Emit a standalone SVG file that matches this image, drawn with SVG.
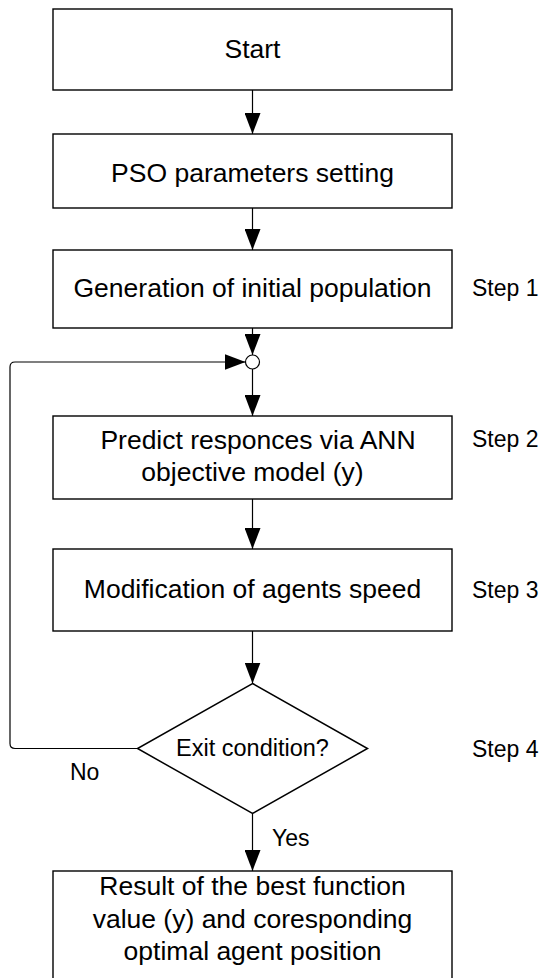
<svg xmlns="http://www.w3.org/2000/svg" width="542" height="978" viewBox="0 0 542 978">
  <style>
    .box { fill: #ffffff; stroke: #000000; stroke-width: 1.4; }
    .dia { fill: #ffffff; stroke: #000000; stroke-width: 1.5; }
    .junction { fill: #ffffff; stroke: #000000; stroke-width: 1.2; }
    .edge { fill: none; stroke: #000000; stroke-width: 1.2; }
    .main { font-family: "Liberation Sans", Arial, sans-serif; font-size: 26.5px; fill: #000000; text-anchor: middle; }
    .small { font-family: "Liberation Sans", Arial, sans-serif; font-size: 23px; fill: #000000; }
  </style>
  <defs>
    <marker id="arrow" markerUnits="userSpaceOnUse" markerWidth="21" markerHeight="16" refX="21" refY="8" orient="auto">
      <path d="M0,0 L21,8 L0,16 z" fill="#000000"/>
    </marker>
  </defs>
  <rect width="542" height="978" fill="#ffffff"/>

  <!-- connectors -->
  <g id="connectors">
    <line class="edge" x1="252.5" y1="90" x2="252.5" y2="134" marker-end="url(#arrow)"/>
    <line class="edge" x1="252.5" y1="208" x2="252.5" y2="250" marker-end="url(#arrow)"/>
    <line class="edge" x1="252.5" y1="328" x2="252.5" y2="355" marker-end="url(#arrow)"/>
    <line class="edge" x1="252.5" y1="369" x2="252.5" y2="416" marker-end="url(#arrow)"/>
    <line class="edge" x1="252.5" y1="499" x2="252.5" y2="549" marker-end="url(#arrow)"/>
    <line class="edge" x1="252.5" y1="631" x2="252.5" y2="683.5" marker-end="url(#arrow)"/>
    <line class="edge" x1="252.5" y1="813.5" x2="252.5" y2="871" marker-end="url(#arrow)"/>
    <!-- feedback loop: No branch back to the junction -->
    <path class="edge" d="M137.5,748.5 H15 Q10,748.5 10,743.5 V367 Q10,362 15,362 H245.5" marker-end="url(#arrow)"/>
    <text class="small" x="70" y="780">No</text>
    <text class="small" x="272" y="846">Yes</text>
  </g>

  <g id="start">
    <rect class="box" x="53" y="9" width="399" height="81"/>
    <text class="main" x="252.5" y="58">Start</text>
  </g>

  <g id="pso-params">
    <rect class="box" x="53" y="134" width="399" height="74"/>
    <text class="main" x="252.5" y="182">PSO parameters setting</text>
  </g>

  <g id="init-population">
    <rect class="box" x="53" y="250" width="399" height="78"/>
    <text class="main" x="252.5" y="297">Generation of initial population</text>
    <text class="small" x="472" y="296">Step 1</text>
  </g>

  <g id="junction">
    <circle class="junction" cx="252.5" cy="362" r="7"/>
  </g>

  <g id="predict">
    <rect class="box" x="53" y="416" width="399" height="83"/>
    <text class="main" x="258" y="449">Predict responces via ANN</text>
    <text class="main" x="252.5" y="481">objective model (y)</text>
    <text class="small" x="472" y="447">Step 2</text>
  </g>

  <g id="modify-speed">
    <rect class="box" x="53" y="549" width="399" height="82"/>
    <text class="main" x="252.5" y="598">Modification of agents speed</text>
    <text class="small" x="472" y="598">Step 3</text>
  </g>

  <g id="exit-check">
    <polygon class="dia" points="252.5,683.5 367.5,748.5 252.5,813.5 137.5,748.5"/>
    <text class="small" x="252.5" y="756" text-anchor="middle" style="font-size:23.5px">Exit condition?</text>
    <text class="small" x="472" y="757">Step 4</text>
  </g>

  <g id="result">
    <rect class="box" x="53" y="871" width="399" height="130"/>
    <text class="main" x="252.5" y="895">Result of the best function</text>
    <text class="main" x="252.5" y="927.5">value (y) and coresponding</text>
    <text class="main" x="252.5" y="960">optimal agent position</text>
  </g>
</svg>
